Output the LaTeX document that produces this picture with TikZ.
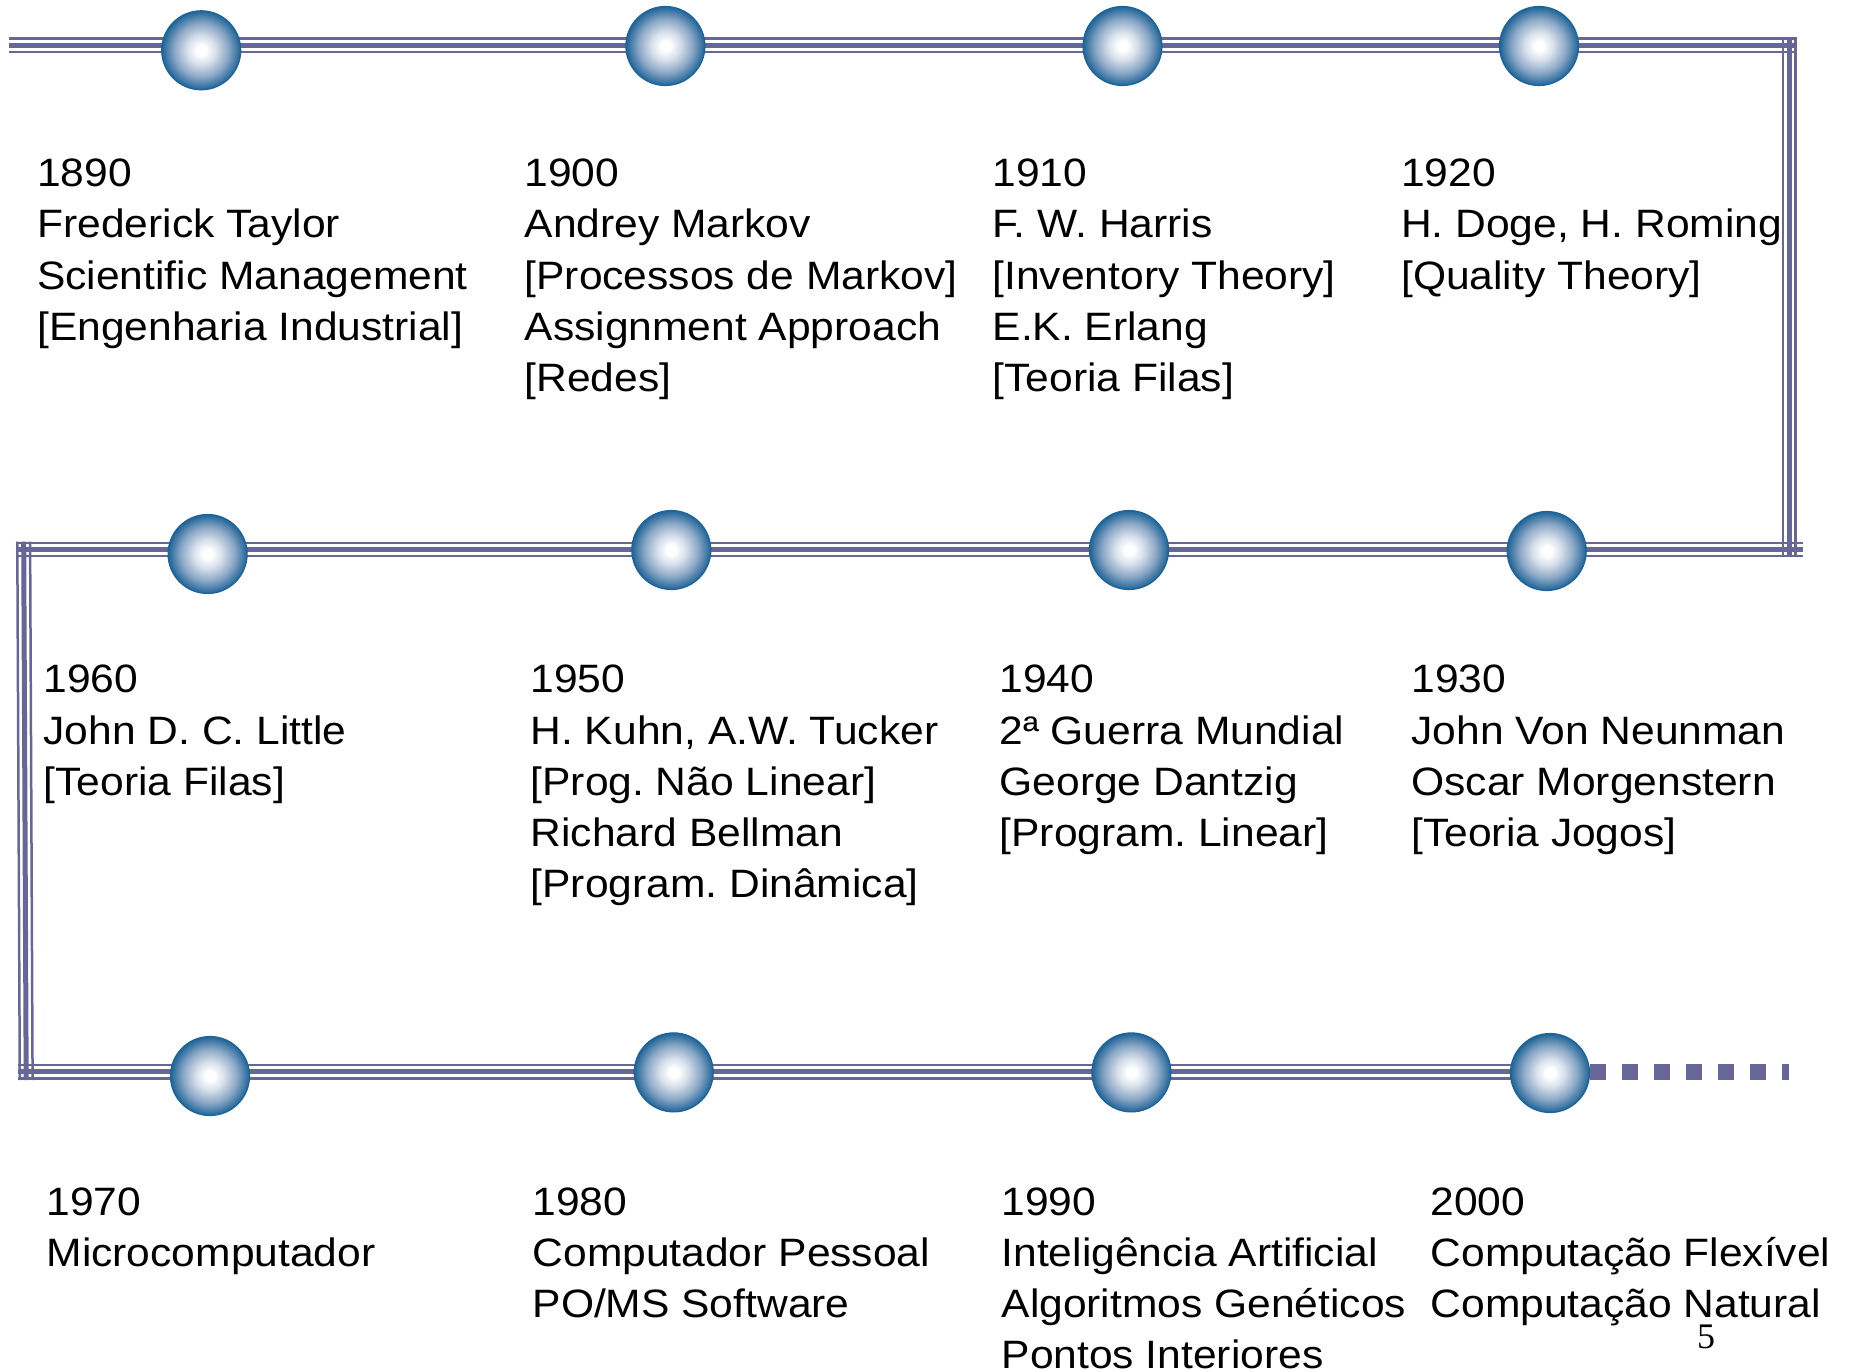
\documentclass[tikz,border=0pt]{standalone}
\usepackage{fontspec}
\setmainfont{Liberation Sans}[FakeStretch=1.075]
\newfontfamily\pagenumfont{Liberation Serif}
\usetikzlibrary{calc}

\definecolor{railcol}{RGB}{102,102,153}
\definecolor{orbblue}{RGB}{30,100,152}
\definecolor{orbmid}{RGB}{140,168,198}
\definecolor{orblight}{RGB}{215,224,235}
\pgfdeclareradialshading{orb}{\pgfpoint{0bp}{0bp}}{%
  color(0bp)=(white); color(3bp)=(white); color(9bp)=(orblight);
  color(17bp)=(orbmid); color(25bp)=(orbblue); color(50bp)=(orbblue)}

% three parallel rails: thin, thick, thin
\newcommand\hrail[2]{%
  \draw[railthin]  ($(#1)+(0,-6.6)$) -- ($(#2)+(0,-6.6)$);
  \draw[railthick] (#1) -- (#2);
  \draw[railthin]  ($(#1)+(0,6.6)$) -- ($(#2)+(0,6.6)$);}
\newcommand\vrail[2]{%
  \draw[railthin]  ($(#1)+(-6.4,0)$) -- ($(#2)+(-6.4,0)$);
  \draw[railthick] (#1) -- (#2);
  \draw[railthin]  ($(#1)+(6.4,0)$) -- ($(#2)+(6.4,0)$);}

\begin{document}
\frenchspacing
\begin{tikzpicture}[x=1pt,y=-1pt,
  railthin/.style={draw=railcol, line width=2.5pt, line cap=butt},
  railthick/.style={draw=railcol, line width=5pt, line cap=butt},
  orbnode/.style={circle, minimum size=79pt, inner sep=0pt, shading=orb, draw=orbblue, line width=1.2pt},
  txt/.style={anchor=base west, align=left, inner sep=0pt, text=black,
              font=\fontsize{39.6}{51.2}\selectfont\frenchspacing},
  dots/.style={draw=railcol, line width=16pt, dash pattern=on 16pt off 16pt}]
\useasboundingbox (0,0) rectangle (1850,1372);

% rail corners and ends
\coordinate (r1w) at (9.3,45.3);
\coordinate (r1e) at (1796.7,45.3);
\coordinate (vrt) at (1789.2,37.3);
\coordinate (vrb) at (1789.2,557.3);
\coordinate (r2e) at (1802.7,549.5);
\coordinate (r2w) at (15.7,549.5);
\coordinate (vlt) at (23.7,541.7);
\coordinate (vlb) at (26.2,1080);
\coordinate (r3w) at (18.3,1071.7);
\coordinate (r3e) at (1550,1071.7);
\coordinate (dotend) at (1789.3,1072);

\hrail{r1w}{r1e}
\vrail{vrt}{vrb}
\hrail{r2w}{r2e}
\vrail{vlt}{vlb}
\hrail{r3w}{r3e}

% milestones
\node[orbnode] (c1)  at (201.2,50.3) {};
\node[orbnode] (c2)  at (665.4,46) {};
\node[orbnode] (c3)  at (1122.5,46) {};
\node[orbnode] (c4)  at (1539,46) {};
\node[orbnode] (c5)  at (207.6,554) {};
\node[orbnode] (c6)  at (671.3,550) {};
\node[orbnode] (c7)  at (1129,550) {};
\node[orbnode] (c8)  at (1546.7,551) {};
\node[orbnode] (c9)  at (210,1076) {};
\node[orbnode] (c10) at (673.7,1072.4) {};
\node[orbnode] (c11) at (1131.4,1072.4) {};
\node[orbnode] (c12) at (1550,1073) {};

\draw[dots] (c12.east |- dotend) -- (dotend);

% labels (each node sits on the baseline of its last line)
\node[txt] (t1) at (37,340.3) {1890\\Frederick Taylor\\Scientific Management\\[0pt][Engenharia Industrial]};
\node[txt] (t2) at (524.4,391.5) {1900\\Andrey Markov\\[0pt][Processos de Markov]\\Assignment Approach\\[0pt][Redes]};
\node[txt] (t3) at (992.4,391.5) {1910\\F. W. Harris\\[0pt][Inventory Theory]\\E.K. Erlang\\[0pt][Teoria Filas]};
\node[txt] (t4) at (1401,289.1) {1920\\H. Doge, H. Roming\\[0pt][Quality Theory]};

\node[txt] (t5) at (43.4,795.2) {1960\\John D. C. Little\\[0pt][Teoria Filas]};
\node[txt] (t6) at (530.4,897.6) {1950\\H. Kuhn, A.W. Tucker\\[0pt][Prog. Não Linear]\\Richard Bellman\\[0pt][Program. Dinâmica]};
\node[txt] (t7) at (999.4,846.4) {1940\\2ª Guerra Mundial\\George Dantzig\\[0pt][Program. Linear]};
\node[txt] (t8) at (1411.2,846.4) {1930\\John Von Neunman\\Oscar Morgenstern\\[0pt][Teoria Jogos]};

\node[txt] (t9)  at (46.4,1266.2) {1970\\Microcomputador};
\node[txt] (t10) at (532.4,1317.4) {1980\\Computador Pessoal\\PO/MS Software};
\node[txt] (t11) at (1001.4,1368.6) {1990\\Inteligência Artificial\\Algoritmos Genéticos\\Pontos Interiores};
\node[txt] (t12) at (1430.4,1317.4) {2000\\Computação Flexível\\Computação Natural};

\node[anchor=base west, inner sep=0pt, font=\pagenumfont\fontsize{36}{40}\selectfont] (pg) at (1697,1348) {5};
\end{tikzpicture}
\end{document}
